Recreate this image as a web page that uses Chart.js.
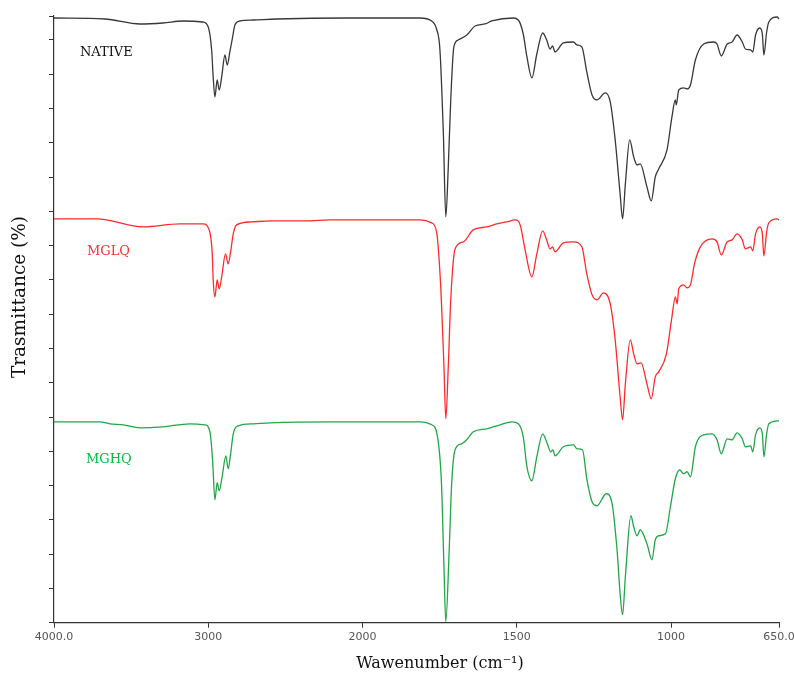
<!DOCTYPE html>
<html>
<head>
<meta charset="utf-8">
<script src="https://cdn.jsdelivr.net/npm/chart.js@4.4.1/dist/chart.umd.min.js"></script>
<style>
  html, body { margin: 0; padding: 0; background: #fff; }
  canvas { display: block; }
</style>
</head>
<body>
<canvas id="ftir" width="794" height="677"></canvas>
<script>
// wavenumber ticks shown on the axis (cm-1)
const xTicks = [4000, 3000, 2000, 1500, 1000, 650];

const seriesNames = ['NATIVE', 'MGLQ', 'MGHQ'];

// NATIVE spectrum
const nativeWn = [4000,3670,3443,3294,3164,3033,3000,2978,2968,2957,2942,2929,2913,2892,2877,2860,2842,2827,2795,2709,2557,2103,1814,1776,1760,1749,1738,1730,1722,1714,1704,1690,1662,1635,1603,1581,1511,1495,1479,1467,1451,1435,1416,1403,1392,1384,1376,1349,1316,1305,1289,1273,1256,1240,1213,1197,1181,1165,1157,1148,1134,1121,1110,1100,1078,1064,1051,1040,1013,997,986,983,975,959,948,937,921,894,862,851,837,818,802,786,769,759,742,735,726,712,704,699,690,683,656,650];
const nativeT = [605,604,599,600,602,601,596,573,546,526,543,533,546,568,558,571,586,598,602,603,604,605,605,602,594,573,490,406,456,523,576,583,588,597,599,602,605,603,589,566,545,569,590,583,574,577,571,580,581,578,576,551,528,523,530,521,483,429,404,439,483,466,458,459,436,422,446,454,473,506,523,518,533,535,534,538,563,579,581,579,567,579,581,588,581,574,573,571,588,595,589,568,591,601,606,604];

// MGLQ spectrum
const mglqWn = [4000,3721,3423,3184,3033,2994,2974,2968,2957,2942,2929,2913,2888,2871,2855,2838,2816,2719,2590,2363,2212,2039,1814,1776,1760,1747,1736,1730,1722,1714,1700,1673,1641,1597,1565,1532,1505,1489,1473,1451,1435,1416,1403,1392,1384,1376,1349,1316,1289,1273,1256,1240,1219,1197,1181,1165,1157,1148,1132,1121,1110,1097,1078,1064,1051,1040,1015,997,986,980,975,959,948,937,924,905,867,851,837,818,802,786,769,759,742,735,726,712,704,699,690,683,656,650];
const mglqT = [404,404,396,399,399,393,369,343,326,343,334,346,369,359,371,389,398,401,402,402,403,403,403,400,391,339,256,204,256,323,374,381,393,396,399,401,403,398,373,346,369,392,383,374,376,371,380,381,376,349,328,323,330,319,283,226,203,239,283,269,259,260,239,224,246,251,269,306,326,319,334,338,335,338,359,376,384,381,368,381,383,389,383,374,376,372,389,396,389,367,391,400,404,403];

// MGHQ spectrum
const mghqWn = [4000,3702,3637,3553,3443,3294,3119,3022,2989,2972,2957,2942,2929,2910,2886,2871,2855,2838,2806,2709,2601,2191,1814,1776,1758,1744,1736,1730,1719,1711,1700,1679,1662,1641,1597,1554,1516,1495,1479,1467,1451,1435,1416,1401,1390,1383,1376,1349,1316,1305,1287,1273,1256,1240,1210,1191,1175,1165,1157,1148,1130,1121,1110,1100,1078,1062,1051,1040,1018,1002,986,972,959,948,937,921,894,867,851,837,818,802,786,769,759,742,735,726,712,704,699,690,683,650];
const mghqT = [201,201,199,198,195,196,199,198,191,163,123,140,132,146,167,154,169,189,197,199,200,201,201,198,188,139,56,1,73,139,173,179,183,191,194,198,201,199,186,156,142,166,189,179,171,173,167,176,178,174,173,144,121,117,129,119,73,29,8,46,107,96,87,93,79,63,83,87,89,116,144,153,149,151,146,176,188,189,183,169,184,183,190,184,176,177,171,188,195,189,166,189,199,202];

const lineColors = ['#383838', '#ff2a2a', '#1ea846'];
const labelColors = ['#111111', '#ff3030', '#00c040'];

// the instrument axis is compressed 2x above 2000 cm-1
const BREAK = 2000;
function wnToAxis(w) { return w >= BREAK ? 4000 - w : (4000 - BREAK) + 2 * (BREAK - w); }
function axisToWn(u) { return u <= 4000 - BREAK ? 4000 - u : BREAK - (u - (4000 - BREAK)) / 2; }

class BrokenWavenumberScale extends Chart.LinearScale {
    static id = 'brokenWavenumber';
    determineDataLimits() {
        this.min = wnToAxis(4000);
        this.max = wnToAxis(650);
    }
    buildTicks() {
        return xTicks.map(v => ({ value: v }));
    }
    getPixelForValue(value) {
        return super.getPixelForValue(wnToAxis(value));
    }
    getValueForPixel(pixel) {
        return axisToWn(super.getValueForPixel(pixel));
    }
}
Chart.register(BrokenWavenumberScale);

const toPoints = (wn, t) => wn.map((w, i) => ({ x: w, y: t[i] }));

const annotations = {
    id: 'annotations',
    afterDraw(chart) {
        const { ctx, chartArea, scales: { x, y } } = chart;
        ctx.save();
        // series names
        ctx.font = '13px "DejaVu Serif"';
        ctx.textBaseline = 'middle';
        ctx.textAlign = 'left';
        const labelWn = [3832, 3786, 3793];
        const labelT = [570, 371, 163];
        seriesNames.forEach((name, i) => {
            ctx.fillStyle = labelColors[i];
            ctx.fillText(name, x.getPixelForValue(labelWn[i]), y.getPixelForValue(labelT[i]));
        });
        // axis titles
        ctx.fillStyle = '#111';
        ctx.font = '16px "DejaVu Serif"';
        ctx.textAlign = 'center';
        ctx.fillText('Wawenumber (cm\u207B\u00B9)', chartArea.left + 386, chartArea.bottom + 41);
        ctx.font = '18.5px "DejaVu Serif"';
        ctx.translate(chartArea.left - 34, chartArea.top + 281);
        ctx.rotate(-Math.PI / 2);
        ctx.fillText('Trasmittance (%)', 0, 0);
        ctx.restore();
    }
};

const ctx = document.getElementById('ftir').getContext('2d');
const ftirChart = new Chart(ctx, {
    type: 'line',
    data: {
        datasets: [
            { label: seriesNames[0], data: toPoints(nativeWn, nativeT), borderColor: lineColors[0] },
            { label: seriesNames[1], data: toPoints(mglqWn, mglqT), borderColor: lineColors[1] },
            { label: seriesNames[2], data: toPoints(mghqWn, mghqT), borderColor: lineColors[2] }
        ]
    },
    options: {
        responsive: false,
        animation: false,
        layout: { padding: { top: 16, right: 15, left: 0, bottom: 0 } },
        elements: {
            point: { radius: 0 },
            line: { borderWidth: 1.3, cubicInterpolationMode: 'monotone', fill: false }
        },
        datasets: { line: { clip: 4 } },
        plugins: { legend: { display: false }, tooltip: { enabled: false } },
        scales: {
            x: {
                type: 'brokenWavenumber',
                grid: { drawOnChartArea: false, tickLength: 5, color: '#333', tickColor: '#333' },
                border: { color: '#333', width: 1.2 },
                ticks: {
                    autoSkip: false,
                    maxRotation: 0,
                    padding: 3,
                    color: '#555',
                    font: { family: '"DejaVu Sans"', size: 11 },
                    callback: v => (v === 4000 || v === 650) ? v.toFixed(1) : String(v)
                },
                afterFit: s => { s.height = 54.3; s.paddingLeft = 0; s.paddingRight = 0; }
            },
            y: {
                min: 0,
                max: 607,
                grid: { drawOnChartArea: false, tickLength: 5, color: '#333', tickColor: '#333' },
                border: { color: '#333', width: 1.2 },
                ticks: { display: false },
                afterBuildTicks: s => {
                    const t = [];
                    for (let i = 0; i <= 17; i++) t.push({ value: i * 34.3 });
                    t.push({ value: 607 });
                    s.ticks = t;
                },
                afterFit: s => { s.width = 54; }
            }
        }
    },
    plugins: [annotations]
});
</script>
</body>
</html>
